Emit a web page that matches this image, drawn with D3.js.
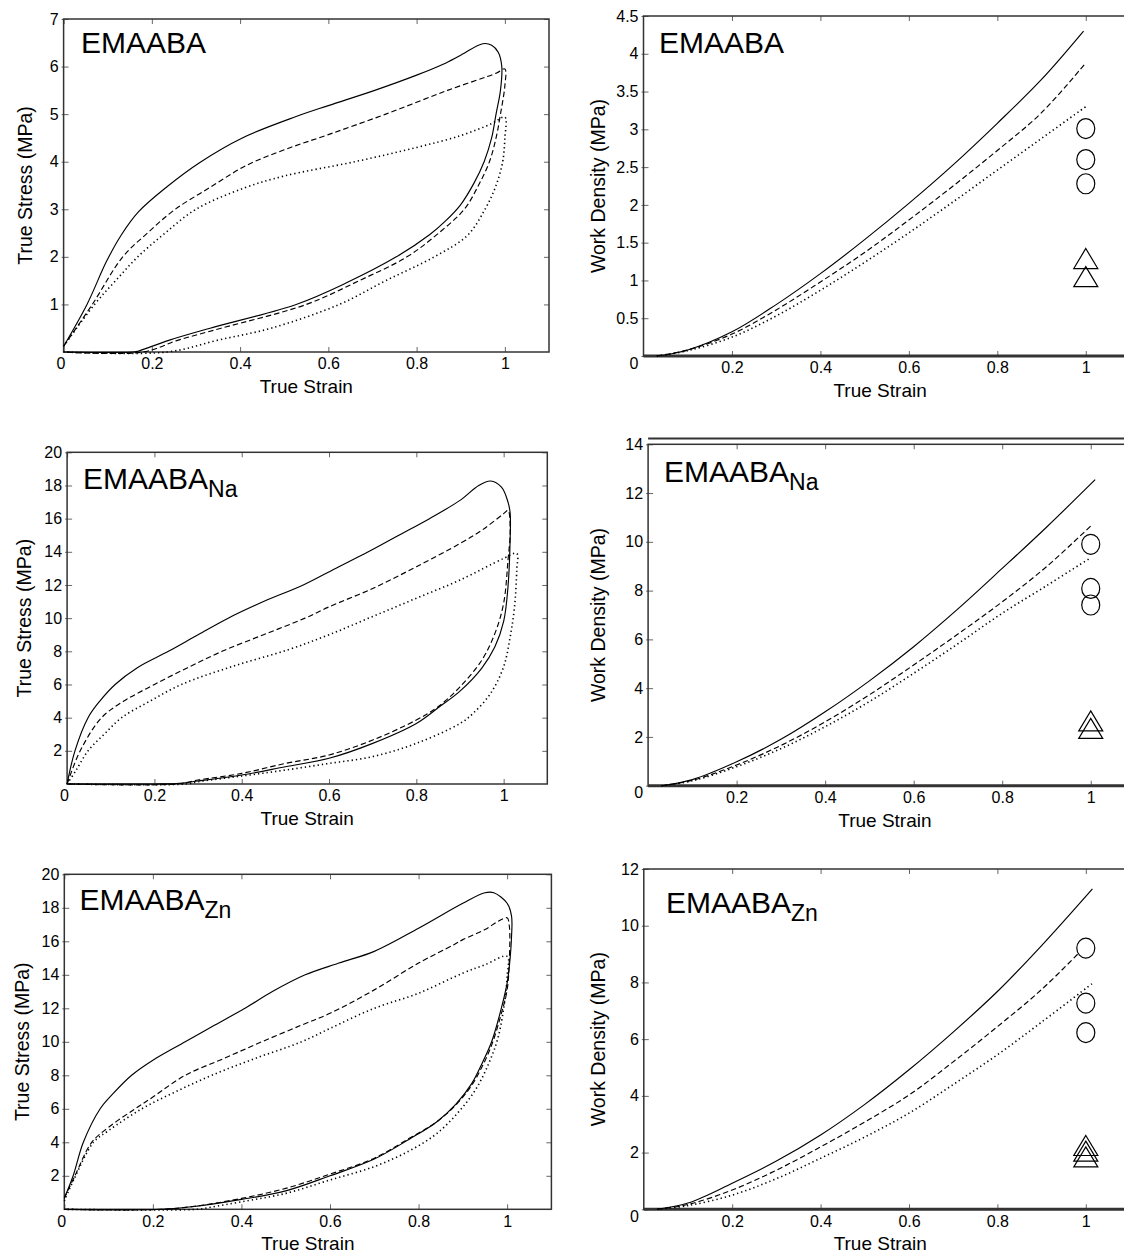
<!DOCTYPE html>
<html>
<head>
<meta charset="utf-8">
<script src="https://cdn.jsdelivr.net/npm/d3@7"></script>
<style>
body { margin: 0; background: #fff; }
svg { display: block; }
text { font-family: "Liberation Sans", Arial, sans-serif; fill: #000; }
</style>
</head>
<body>
<div class="chart-area"></div>
<script>
// ---- tick values ----
const strainTicksLeft = [0, 0.2, 0.4, 0.6, 0.8, 1];
const strainTicksRight = [0.2, 0.4, 0.6, 0.8, 1];
const stressTicksA = [1, 2, 3, 4, 5, 6, 7];
const stressTicksB = [2, 4, 6, 8, 10, 12, 14, 16, 18, 20];
const workTicksA = [0, 0.5, 1, 1.5, 2, 2.5, 3, 3.5, 4, 4.5];
const workTicksB = [0, 2, 4, 6, 8, 10, 12, 14];
const workTicksC = [0, 2, 4, 6, 8, 10, 12];

// ---- EMAABA stress-strain loops [strain, stress] ----
const emaabaSolid = [[0,0.12],[0.053,1],[0.097,1.9],[0.13,2.45],[0.17,2.95],[0.235,3.48],[0.308,3.98],[0.405,4.5],[0.527,4.95],[0.6,5.18],[0.705,5.5],[0.8,5.82],[0.86,6.05],[0.9,6.24],[0.95,6.48],[0.97,6.45],[0.985,6.3],[0.993,6.0],[0.99,5.5],[0.98,5.0],[0.97,4.5],[0.953,4],[0.93,3.55],[0.9,3.1],[0.865,2.75],[0.83,2.47],[0.754,2],[0.64,1.45],[0.527,1],[0.332,0.5],[0.24,0.25],[0.17,0.02],[0.16,0],[0,0]];
const emaabaDashed = [[0,0.12],[0.065,1],[0.134,2],[0.19,2.5],[0.25,2.98],[0.33,3.45],[0.414,3.92],[0.5,4.25],[0.6,4.57],[0.73,5],[0.87,5.5],[0.98,5.86],[1.0,5.95],[1.0,5.6],[0.99,5],[0.98,4.5],[0.965,4],[0.94,3.5],[0.908,3],[0.85,2.5],[0.778,2],[0.67,1.5],[0.55,1],[0.357,0.5],[0.26,0.25],[0.18,0],[0,0]];
const emaabaDotted = [[0,0.12],[0.07,1],[0.118,1.5],[0.168,2],[0.23,2.5],[0.3,3],[0.41,3.45],[0.5,3.7],[0.66,4],[0.8,4.3],[0.9,4.55],[0.97,4.8],[1.0,4.94],[1.0,4.5],[0.995,4],[0.98,3.5],[0.955,3],[0.915,2.45],[0.84,2],[0.73,1.5],[0.625,1],[0.47,0.5],[0.35,0.25],[0.235,0],[0,0]];

// ---- EMAABA-Na stress-strain loops ----
const naSolid = [[0,0],[0.018,2],[0.048,4],[0.075,5],[0.11,6],[0.16,7],[0.232,8],[0.3,9.0],[0.369,10],[0.45,11],[0.541,12],[0.615,13],[0.69,14],[0.76,15],[0.83,16],[0.9,17.1],[0.943,18],[0.97,18.27],[0.995,17.9],[1.01,17],[1.015,16.3],[1.015,14.9],[1.01,11.9],[1.0,9.8],[0.98,8.27],[0.95,6.99],[0.9,5.6],[0.85,4.6],[0.8,3.65],[0.7,2.45],[0.6,1.55],[0.5,1.04],[0.4,0.54],[0.3,0.18],[0.25,0.03],[0.2,0],[0,0]];
const naDashed = [[0,0],[0.03,2],[0.079,4],[0.13,5],[0.2,6],[0.275,7],[0.355,8],[0.45,9],[0.545,10],[0.6,10.68],[0.7,11.79],[0.8,13.1],[0.9,14.5],[0.95,15.3],[1.0,16.3],[1.01,16.5],[1.015,15.3],[1.01,13.5],[1.0,10.9],[0.98,9.08],[0.95,7.47],[0.9,5.86],[0.85,4.66],[0.8,3.86],[0.7,2.65],[0.6,1.75],[0.5,1.24],[0.4,0.64],[0.3,0.24],[0.25,0],[0,0]];
const naDotted = [[0,0],[0.02,0.8],[0.048,2],[0.085,3],[0.125,4],[0.19,5],[0.262,6],[0.38,7.1],[0.507,8.1],[0.6,9.0],[0.7,10.1],[0.8,11.2],[0.9,12.3],[1.0,13.6],[1.03,13.9],[1.03,12.9],[1.025,10.7],[1.015,8.88],[1.0,7.07],[0.97,5.46],[0.93,4.26],[0.9,3.65],[0.8,2.45],[0.7,1.65],[0.6,1.24],[0.5,0.84],[0.4,0.48],[0.3,0.14],[0.27,0],[0,0]];

// ---- EMAABA-Zn stress-strain loops ----
const znSolid = [[0,0.66],[0.02,2],[0.043,4],[0.081,6],[0.11,6.9],[0.152,8],[0.2,8.9],[0.273,10],[0.34,11],[0.408,12],[0.47,13],[0.544,14],[0.62,14.7],[0.7,15.4],[0.8,16.78],[0.9,18.27],[0.95,18.9],[0.97,18.9],[1.0,18.27],[1.01,17.5],[1.01,16.3],[1.005,14.5],[1.0,13.5],[0.985,11.8],[0.965,10],[0.945,8.8],[0.92,7.5],[0.885,6.3],[0.84,5.2],[0.78,4.2],[0.7,3.0],[0.6,2.0],[0.5,1.1],[0.4,0.59],[0.3,0.19],[0.22,0],[0,0]];
const znDashed = [[0,0.66],[0.024,2],[0.062,4],[0.1,4.9],[0.16,6],[0.2,6.7],[0.273,8],[0.36,9],[0.446,10],[0.536,11],[0.6,11.7],[0.7,13.1],[0.8,14.7],[0.88,15.8],[0.9,16.1],[0.95,16.7],[0.98,17.2],[1.0,17.4],[1.005,16.9],[1.005,14.9],[1.0,13.1],[0.985,11.5],[0.965,9.8],[0.945,8.6],[0.92,7.4],[0.885,6.25],[0.84,5.2],[0.78,4.25],[0.7,3.05],[0.6,2.1],[0.5,1.25],[0.4,0.65],[0.3,0.2],[0.22,0],[0,0]];
const znDotted = [[0,0.5],[0.022,1.8],[0.066,4],[0.1,4.7],[0.175,6],[0.25,7],[0.333,8],[0.43,9],[0.536,10],[0.6,10.8],[0.7,12.0],[0.8,12.9],[0.9,14.1],[0.95,14.6],[1.0,15.1],[1.0,13.9],[0.995,12.5],[0.98,10.3],[0.96,8.8],[0.93,7.2],[0.89,5.8],[0.84,4.5],[0.78,3.5],[0.7,2.55],[0.6,1.75],[0.5,0.95],[0.4,0.45],[0.33,0.12],[0.3,0],[0,0]];

// ---- work density curves [strain, work density] ----
const wdEmaabaSolid = [[0.03,0],[0.1,0.08],[0.2,0.32],[0.3,0.68],[0.4,1.09],[0.5,1.54],[0.6,2.02],[0.7,2.53],[0.8,3.08],[0.9,3.66],[0.995,4.3]];
const wdEmaabaDashed = [[0.03,0],[0.1,0.08],[0.2,0.29],[0.3,0.61],[0.4,0.98],[0.5,1.37],[0.6,1.80],[0.7,2.25],[0.8,2.72],[0.9,3.22],[1.0,3.88]];
const wdEmaabaDotted = [[0.03,0],[0.1,0.07],[0.2,0.25],[0.3,0.53],[0.4,0.87],[0.5,1.24],[0.6,1.63],[0.7,2.04],[0.8,2.46],[0.9,2.88],[1.0,3.30]];
const wdNaSolid = [[0.03,0],[0.1,0.25],[0.2,0.98],[0.3,1.90],[0.4,3.03],[0.5,4.30],[0.6,5.70],[0.7,7.25],[0.8,8.91],[0.9,10.6],[1.01,12.55]];
const wdNaDashed = [[0.03,0],[0.1,0.22],[0.2,0.85],[0.3,1.65],[0.4,2.62],[0.5,3.73],[0.6,4.95],[0.7,6.22],[0.8,7.54],[0.9,8.98],[1.0,10.65]];
const wdNaDotted = [[0.03,0],[0.1,0.2],[0.2,0.78],[0.3,1.52],[0.4,2.42],[0.5,3.45],[0.6,4.61],[0.7,5.82],[0.8,7.07],[0.9,8.2],[1.0,9.35]];
const wdZnSolid = [[0.03,0],[0.1,0.22],[0.2,0.92],[0.3,1.7],[0.4,2.62],[0.5,3.7],[0.6,4.92],[0.7,6.25],[0.8,7.68],[0.9,9.3],[1.015,11.3]];
const wdZnDashed = [[0.03,0],[0.1,0.17],[0.2,0.68],[0.3,1.38],[0.4,2.2],[0.5,3.08],[0.6,4.03],[0.7,5.2],[0.8,6.44],[0.9,7.75],[0.985,9.05]];
const wdZnDotted = [[0.03,0],[0.1,0.13],[0.2,0.5],[0.3,1.08],[0.4,1.8],[0.5,2.55],[0.6,3.39],[0.7,4.4],[0.8,5.45],[0.9,6.6],[1.018,8.0]];

// ---- markers at strain 1 ----
const circlesEmaaba = [3.01, 2.60, 2.28];
const trianglesEmaaba = [1.29, 1.05];
const circlesNa = [9.9, 8.09, 7.41];
const trianglesNa = [2.66, 2.35];
const circlesZn = [9.21, 7.27, 6.23];
const trianglesZn = [2.25, 2.05, 1.85];

const svg = d3.select('.chart-area').append('svg')
    .attr('width', 1124)
    .attr('height', 1251);
svg.append('rect').attr('width', 1124).attr('height', 1251).attr('fill', '#fff');

const dash = {solid: null, dashed: '5.5,3', dotted: '1.3,3'};

const panels = [
  {l: 63.6, t: 19, r: 549, b: 352, yMax: 7, xt: strainTicksLeft, yt: stressTicksA,
   ylab: 'True Stress (MPa)', ylabX: 25, title: 'EMAABA', sub: '', tx: 81, ty: 53,
   curves: [[emaabaSolid,'solid'],[emaabaDashed,'dashed'],[emaabaDotted,'dotted']]},
  {l: 643.5, t: 16, r: 1130, b: 356, yMax: 4.5, xt: strainTicksRight, yt: workTicksA,
   ylab: 'Work Density (MPa)', ylabX: 598, title: 'EMAABA', sub: '', tx: 659, ty: 53, right: true,
   curves: [[wdEmaabaSolid,'solid'],[wdEmaabaDashed,'dashed'],[wdEmaabaDotted,'dotted']],
   circles: circlesEmaaba, triangles: trianglesEmaaba},
  {l: 67.1, t: 452.3, r: 547.3, b: 784, yMax: 20, xt: strainTicksLeft, yt: stressTicksB,
   ylab: 'True Stress (MPa)', ylabX: 24, title: 'EMAABA', sub: 'Na', tx: 83, ty: 489,
   curves: [[naSolid,'solid'],[naDashed,'dashed'],[naDotted,'dotted']]},
  {l: 648.1, t: 444.3, r: 1135, b: 785.7, yMax: 14, xt: strainTicksRight, yt: workTicksB,
   ylab: 'Work Density (MPa)', ylabX: 598, title: 'EMAABA', sub: 'Na', tx: 664, ty: 482, right: true, extraTop: 438.5,
   curves: [[wdNaSolid,'solid'],[wdNaDashed,'dashed'],[wdNaDotted,'dotted']],
   circles: circlesNa, triangles: trianglesNa},
  {l: 64.3, t: 874.3, r: 551.4, b: 1209.3, yMax: 20, xt: strainTicksLeft, yt: stressTicksB,
   ylab: 'True Stress (MPa)', ylabX: 22, title: 'EMAABA', sub: 'Zn', tx: 79.5, ty: 910,
   curves: [[znSolid,'solid'],[znDashed,'dashed'],[znDotted,'dotted']]},
  {l: 643.8, t: 869, r: 1130, b: 1209.3, yMax: 12, xt: strainTicksRight, yt: workTicksC,
   ylab: 'Work Density (MPa)', ylabX: 598, title: 'EMAABA', sub: 'Zn', tx: 666, ty: 913, right: true,
   curves: [[wdZnSolid,'solid'],[wdZnDashed,'dashed'],[wdZnDotted,'dotted']],
   circles: circlesZn, triangles: trianglesZn}
];

const fmt = d3.format('~g');

panels.forEach(p => {
  const x = d3.scaleLinear().domain([0, 1.1]).range([p.l, p.r]);
  const y = d3.scaleLinear().domain([0, p.yMax]).range([p.b, p.t]);
  const g = svg.append('g');

  // axes with inward ticks (MATLAB style)
  const xa = g.append('g').attr('transform', `translate(0,${p.b})`)
    .call(d3.axisBottom(x).tickValues(p.xt).tickFormat(fmt).tickSizeInner(-5).tickSizeOuter(0).tickPadding(6));
  const xt = g.append('g').attr('transform', `translate(0,${p.t})`)
    .call(d3.axisTop(x).tickValues(p.xt).tickFormat('').tickSizeInner(-5).tickSizeOuter(0));
  const ya = g.append('g').attr('transform', `translate(${p.l},0)`)
    .call(d3.axisLeft(y).tickValues(p.yt).tickFormat(fmt).tickSizeInner(-5).tickSizeOuter(0).tickPadding(5));
  const yr = g.append('g').attr('transform', `translate(${p.r},0)`)
    .call(d3.axisRight(y).tickValues(p.yt).tickFormat('').tickSizeInner(-5).tickSizeOuter(0));
  [xa, xt, ya, yr].forEach(a => {
    a.select('.domain').remove();
    a.selectAll('.tick line').attr('stroke', '#666').attr('stroke-width', 1);
    a.selectAll('text').attr('font-size', 16).style('font-family', '"Liberation Sans", Arial, sans-serif');
  });
  ya.selectAll('.tick').append('line').attr('x1', -2).attr('x2', 0).attr('stroke', '#666');
  ya.selectAll('.tick text').filter(d => d === 0).attr('dy', '0.75em');
  xa.selectAll('.tick text').filter(d => d === 0).attr('dx', '-0.2em');

  // frame
  g.append('rect').attr('x', p.l).attr('y', p.t)
    .attr('width', p.r - p.l).attr('height', p.b - p.t)
    .attr('fill', 'none').attr('stroke', '#333').attr('stroke-width', 1.5);
  if (p.right) {
    g.append('line').attr('x1', p.l).attr('x2', 1124).attr('y1', p.b).attr('y2', p.b)
      .attr('stroke', '#333').attr('stroke-width', 3);
  }
  if (p.extraTop) {
    g.append('line').attr('x1', p.l).attr('x2', 1124).attr('y1', p.extraTop).attr('y2', p.extraTop)
      .attr('stroke', '#333').attr('stroke-width', 2);
  }

  // curves
  const line = d3.line()
    .x(d => x(d[0]))
    .y(d => y(d[1]))
    .curve(d3.curveCatmullRom.alpha(0.5));
  p.curves.forEach(([pts, style]) => {
    g.append('path').datum(pts)
      .attr('fill', 'none')
      .attr('stroke', '#000')
      .attr('stroke-width', style === 'dotted' ? 1.6 : 1.15)
      .attr('stroke-dasharray', dash[style])
      .attr('d', line);
  });

  // markers
  if (p.circles) {
    g.selectAll('ellipse.m').data(p.circles).enter().append('ellipse')
      .attr('cx', x(1)).attr('cy', d => y(d))
      .attr('rx', 9).attr('ry', 10)
      .attr('fill', 'none').attr('stroke', '#000').attr('stroke-width', 1.2);
  }
  if (p.triangles) {
    g.selectAll('path.tri').data(p.triangles).enter().append('path')
      .attr('class', 'tri')
      .attr('d', d => {
        const cx = x(1), cy = y(d);
        return `M${cx},${cy - 10}L${cx + 12},${cy + 10}L${cx - 12},${cy + 10}Z`;
      })
      .attr('fill', 'none').attr('stroke', '#000').attr('stroke-width', 1.2);
  }

  // axis titles
  g.append('text')
    .attr('x', x(p.right ? 0.535 : 0.55))
    .attr('y', p.b + 41)
    .attr('text-anchor', 'middle')
    .attr('font-size', 19)
    .text('True Strain');
  g.append('text')
    .attr('transform', `translate(${p.ylabX},${(p.t + p.b) / 2}) rotate(-90)`)
    .attr('text-anchor', 'middle')
    .attr('dy', '0.35em')
    .attr('font-size', 19.5)
    .text(p.ylab);

  // panel title
  const tt = g.append('text').attr('x', p.tx).attr('y', p.ty).attr('font-size', 30);
  tt.append('tspan').text(p.title);
  if (p.sub) tt.append('tspan').attr('dy', 8).attr('font-size', 23).text(p.sub);
});
</script>
</body>
</html>
